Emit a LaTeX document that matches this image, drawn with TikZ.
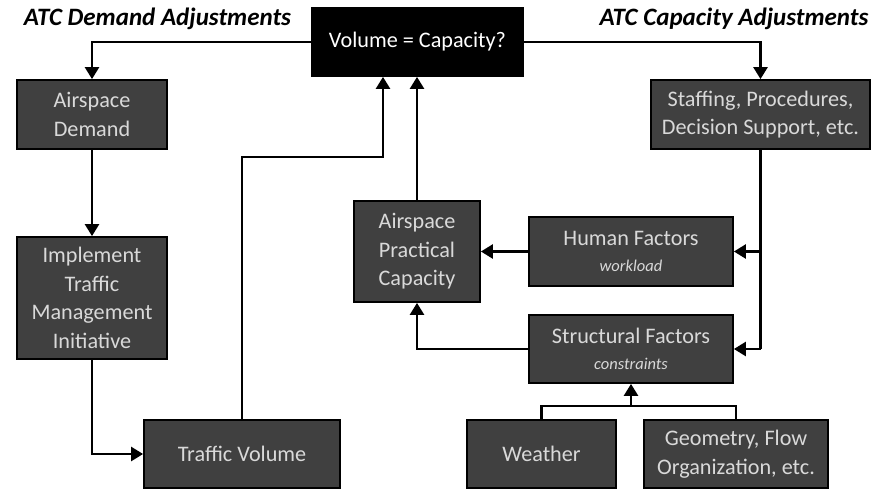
\documentclass[tikz,border=0pt]{standalone}
\usepackage{fontspec}
\setmainfont{Carlito}
\usetikzlibrary{arrows.meta}
\definecolor{boxfill}{HTML}{404040}
\definecolor{boxtext}{HTML}{D9D9D9}
\newcommand{\subtxt}[1]{{\fontsize{16.5}{20}\selectfont\itshape #1}}
\tikzset{
  box/.style={draw=black, line width=1.8pt, fill=boxfill, text=boxtext, align=center,
    inner sep=2pt, font=\fontsize{22.2}{28.5}\selectfont},
  arr/.style={line width=2.5pt, -{Triangle[length=12pt,width=14pt]}},
  ln/.style={line width=2.5pt},
  ttl/.style={font=\fontsize{25}{28}\selectfont\bfseries\itshape, text=black, inner sep=0pt}
}
\begin{document}
\begin{tikzpicture}[x=1pt,y=-1pt]
\path[use as bounding box, fill=white] (0,0) rectangle (886,490);
\node[ttl] (t1) at (157.5,19) {ATC Demand Adjustments};
\node[ttl] (t2) at (734,19) {ATC Capacity Adjustments};
\node[box, fill=black, text=white, minimum width=211pt, minimum height=68pt] (vol) at (417.5,42) {Volume = Capacity?};
\node[box, minimum width=150pt, minimum height=69pt] (ad) at (92,114.5) {Airspace\\Demand};
\node[box, minimum width=150pt, minimum height=122pt] (impl) at (92,298) {Implement\\Traffic\\Management\\Initiative};
\node[box, minimum width=196pt, minimum height=68pt] (tv) at (242,454) {Traffic Volume};
\node[box, minimum width=126pt, minimum height=101pt] (apc) at (417,251.5) {Airspace\\Practical\\Capacity};
\node[box, minimum width=219pt, minimum height=69pt] (staff) at (760.5,114.5) {Staffing, Procedures,\\Decision Support, etc.};
\node[box, minimum width=204pt, minimum height=69pt] (hf) at (631,251.5) {Human Factors\\[-3pt]\subtxt{workload}};
\node[box, minimum width=204pt, minimum height=68pt] (sf) at (631,349) {Structural Factors\\[-3pt]\subtxt{constraints}};
\node[box, minimum width=149pt, minimum height=68pt] (wx) at (541.5,454) {Weather};
\node[box, minimum width=184pt, minimum height=68pt] (geo) at (736,454) {Geometry, Flow\\Organization, etc.};
\coordinate (j1) at (383,157);
\coordinate (jw) at (631,406);
% connectors
\draw[arr] (vol.west) -| (ad.north);
\draw[arr] (ad.south) -- (impl.north);
\draw[arr] (impl.south) |- (tv.west);
\draw[arr] (tv.north) |- (j1) -- (j1 |- vol.south);
\draw[arr] (apc.north) -- (apc.north |- vol.south);
\draw[arr] (vol.east) -| (staff.north);
\draw[ln] (staff.south) -- (staff.south |- sf.east);
\draw[arr] (staff.south |- hf.east) -- (hf.east);
\draw[arr] (staff.south |- sf.east) -- (sf.east);
\draw[arr] (hf.west) -- (apc.east);
\draw[arr] (sf.west) -| (apc.south);
\draw[ln] (wx.north) |- (jw) -| (geo.north);
\draw[arr] (jw) -- (sf.south);
\end{tikzpicture}
\end{document}
